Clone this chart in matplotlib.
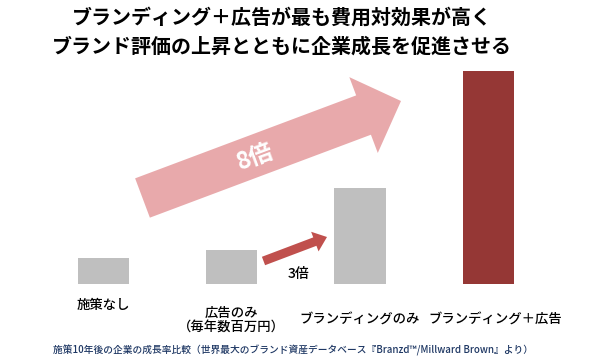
import matplotlib
matplotlib.use("Agg")
import matplotlib.pyplot as plt
from matplotlib.patches import FancyArrow
import matplotlib.transforms as mtransforms

plt.rcParams["font.family"] = ["Noto Sans CJK JP", "DejaVu Sans"]

# data (relative growth)
categories = ["施策なし", "広告のみ\n（毎年数百万円）", "ブランディングのみ", "ブランディング＋広告"]
values = [1.0, 1.3, 3.65, 8.1]
colors = ["#bfbfbf", "#bfbfbf", "#bfbfbf", "#953735"]

title_lines = ["ブランディング＋広告が最も費用対効果が高く",
               "ブランド評価の上昇とともに企業成長を促進させる"]
footnote = "施策10年後の企業の成長率比較（世界最大のブランド資産データベース『Branzd™/Millward Brown』より）"

fig = plt.figure(figsize=(6, 3.56), dpi=100)
ax = fig.add_axes([0, 72 / 356, 1, 230.6 / 356])
x = list(range(len(categories)))
ax.bar(x, values, width=0.4, color=colors)
ax.set_xlim(-0.805, 3.871)
ax.set_ylim(0, 8.77)
ax.axis("off")

# overlay in pixel coords (top-left origin) for annotations
ov = fig.add_axes([0, 0, 1, 1], facecolor="none")
ov.set_xlim(0, 600)
ov.set_ylim(356, 0)
ov.axis("off")

# big pink arrow + label
ov.add_patch(FancyArrow(142.5, 198, 401 - 142.5, 101 - 198, width=42,
                        head_width=81, head_length=40, length_includes_head=True,
                        color="#e8a9ab", lw=0))
ov.text(255, 157, "8倍", color="white", fontsize=17, fontweight="bold",
        rotation=20.5, ha="center", va="center", rotation_mode="anchor")

# small red arrow + label
ov.add_patch(FancyArrow(263.5, 261, 327 - 263.5, 237 - 261, width=9,
                        head_width=21, head_length=13, length_includes_head=True,
                        color="#c0504d", lw=0))
ov.text(299, 274, "3倍", color="black", fontsize=10, fontweight="medium",
        ha="center", va="center")

# category labels
trans = mtransforms.blended_transform_factory(ax.transData, ov.transData)
for i, lab in enumerate(categories):
    y = 305 if i == 0 else 320
    t = trans
    if i == len(categories) - 1:
        t = trans + mtransforms.ScaledTranslation(7 / 100, 0, fig.dpi_scale_trans)
    ax.text(x[i], y, lab, transform=t, ha="center", va="center",
            fontsize=9.6, fontweight="medium", linespacing=1.0)

# title
fig.text(282 / 600, 1 - 17 / 356, title_lines[0], ha="center", va="center",
         fontsize=14.4, fontweight="bold")
fig.text(282 / 600, 1 - 46 / 356, title_lines[1], ha="center", va="center",
         fontsize=14.4, fontweight="bold")

fig.text(293 / 600, 1 - 350 / 356, footnote, ha="center", va="center",
         fontsize=7, fontweight="medium", color="#1f3864")

fig.savefig("out.png", dpi=100)
